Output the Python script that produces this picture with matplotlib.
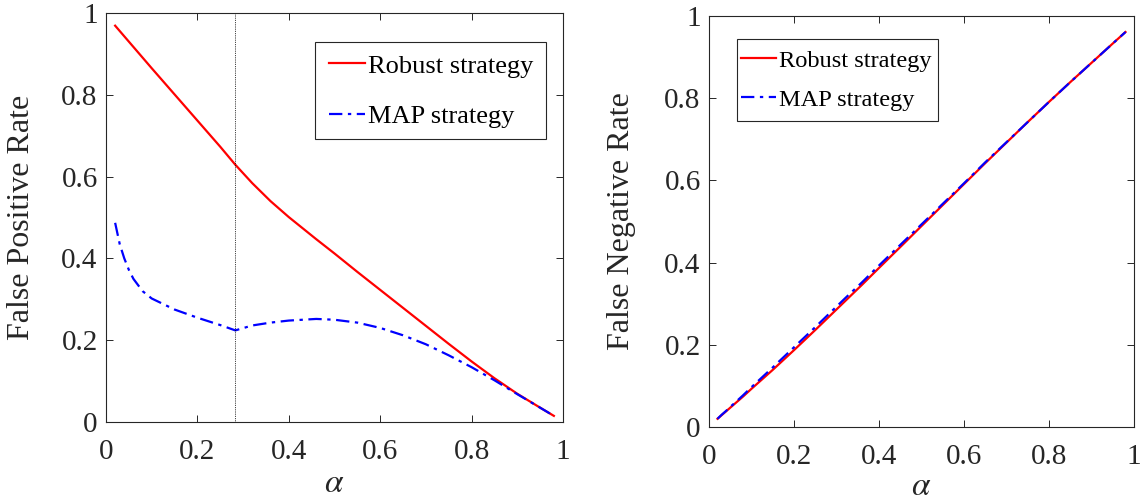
import matplotlib
matplotlib.use("Agg")
import matplotlib.pyplot as plt
from matplotlib.patches import Rectangle

plt.rcParams['font.family'] = ['Liberation Serif', 'DejaVu Serif']
plt.rcParams['mathtext.fontset'] = 'stix'

# alpha grid and error rates for the two strategies
alpha = [0.02, 0.03, 0.04, 0.05, 0.06, 0.08, 0.10, 0.15, 0.20, 0.25, 0.283, 0.32, 0.36,
         0.40, 0.46, 0.50, 0.55, 0.60, 0.65, 0.70, 0.75, 0.80, 0.85, 0.90, 0.95, 0.98]

fpr_robust = [0.969, 0.956, 0.943, 0.930, 0.917, 0.891, 0.865, 0.801, 0.737, 0.673, 0.629, 0.584, 0.540,
              0.501, 0.447, 0.412, 0.367, 0.323, 0.279, 0.235, 0.191, 0.148, 0.107, 0.069, 0.035, 0.015]
fpr_map = [0.487, 0.435, 0.400, 0.372, 0.350, 0.320, 0.302, 0.275, 0.255, 0.237, 0.224, 0.236, 0.243,
           0.248, 0.252, 0.250, 0.243, 0.230, 0.212, 0.190, 0.163, 0.134, 0.102, 0.068, 0.035, 0.015]

fnr_robust = [0.020, 0.029, 0.038, 0.047, 0.056, 0.074, 0.093, 0.139, 0.187, 0.236, 0.269, 0.306, 0.346,
              0.387, 0.448, 0.489, 0.540, 0.591, 0.642, 0.692, 0.742, 0.791, 0.839, 0.886, 0.933, 0.961]
fnr_map = [0.020, 0.030, 0.039, 0.049, 0.058, 0.077, 0.097, 0.145, 0.194, 0.243, 0.276, 0.313, 0.352,
           0.393, 0.453, 0.493, 0.543, 0.593, 0.644, 0.693, 0.742, 0.791, 0.839, 0.886, 0.933, 0.961]

alpha_mark = 0.283
ticks = [0, 0.2, 0.4, 0.6, 0.8, 1]
tick_labels = ['0', '0.2', '0.4', '0.6', '0.8', '1']

W, H = 1143, 501
fig = plt.figure(figsize=(W / 100, H / 100), dpi=100)

ax1 = fig.add_axes([106 / W, 1 - 422 / H, 457 / W, 409 / H])
ax2 = fig.add_axes([709 / W, 1 - 427 / H, 425 / W, 411 / H])

dark = '#262626'
dashdot = (0, (6, 2.5, 1.5, 2.5))


def style(ax):
    ax.set_xlim(0, 1)
    ax.set_ylim(0, 1)
    ax.set_xticks(ticks)
    ax.set_xticklabels(tick_labels)
    ax.set_yticks(ticks)
    ax.set_yticklabels(tick_labels)
    ax.tick_params(direction='in', length=5, width=0.7, top=True, right=True,
                   labelsize=21, colors=dark, labelcolor=dark)
    ax.tick_params(axis='x', pad=12)
    ax.tick_params(axis='y', pad=6)
    for s in ax.spines.values():
        s.set_color(dark)
        s.set_linewidth(0.8)


def legend(ax, box, anchor, size, hlen, spacing):
    # box = (x0, y0, x1, y1) in pixels from the top-left; the frame is drawn separately
    x0, y0, x1, y1 = box
    ax.add_patch(Rectangle((x0 / W, 1 - y1 / H), (x1 - x0) / W, (y1 - y0) / H,
                           transform=fig.transFigure, facecolor='white', edgecolor=dark,
                           lw=0.8, zorder=4, clip_on=False))
    ax.legend(loc='center left', bbox_to_anchor=(anchor[0] / W, 1 - anchor[1] / H),
              bbox_transform=fig.transFigure, borderaxespad=0, borderpad=0,
              fontsize=size, frameon=False, handlelength=hlen, handletextpad=0.1,
              labelspacing=spacing)


# left: false positive rate
ax1.plot(alpha, fpr_robust, color='#ff0000', lw=1.6, label='Robust strategy')
ax1.plot(alpha, fpr_map, color='#0000ff', lw=1.6, ls=dashdot, label='MAP strategy')
ax1.axvline(alpha_mark, color='black', lw=0.6, ls=(0, (1, 1.2)))
style(ax1)
ax1.set_xlabel(r'$\alpha$', fontsize=24, color=dark, va='center')
ax1.xaxis.set_label_coords(0.5, -62 / 409)
ax1.set_ylabel('False Positive Rate', fontsize=23, color=dark, va='center')
ax1.yaxis.set_label_coords(-84 / 457, 0.5)
legend(ax1, (315, 41.7, 546, 139), (329, 91.3), 19, 1.36, 1.03)

# right: false negative rate
ax2.plot(alpha, fnr_robust, color='#ff0000', lw=1.6, label='Robust strategy')
ax2.plot(alpha, fnr_map, color='#0000ff', lw=1.6, ls=dashdot, label='MAP strategy')
style(ax2)
ax2.set_xlabel(r'$\alpha$', fontsize=24, color=dark, va='center')
ax2.xaxis.set_label_coords(0.5, -60 / 411)
ax2.set_ylabel('False Negative Rate', fontsize=23, color=dark, va='center')
ax2.yaxis.set_label_coords(-87 / 425, 0.5)
legend(ax2, (737, 39.3, 938, 120.7), (740.7, 80.4), 17.6, 1.45, 0.69)

fig.savefig('out.png', dpi=100)
